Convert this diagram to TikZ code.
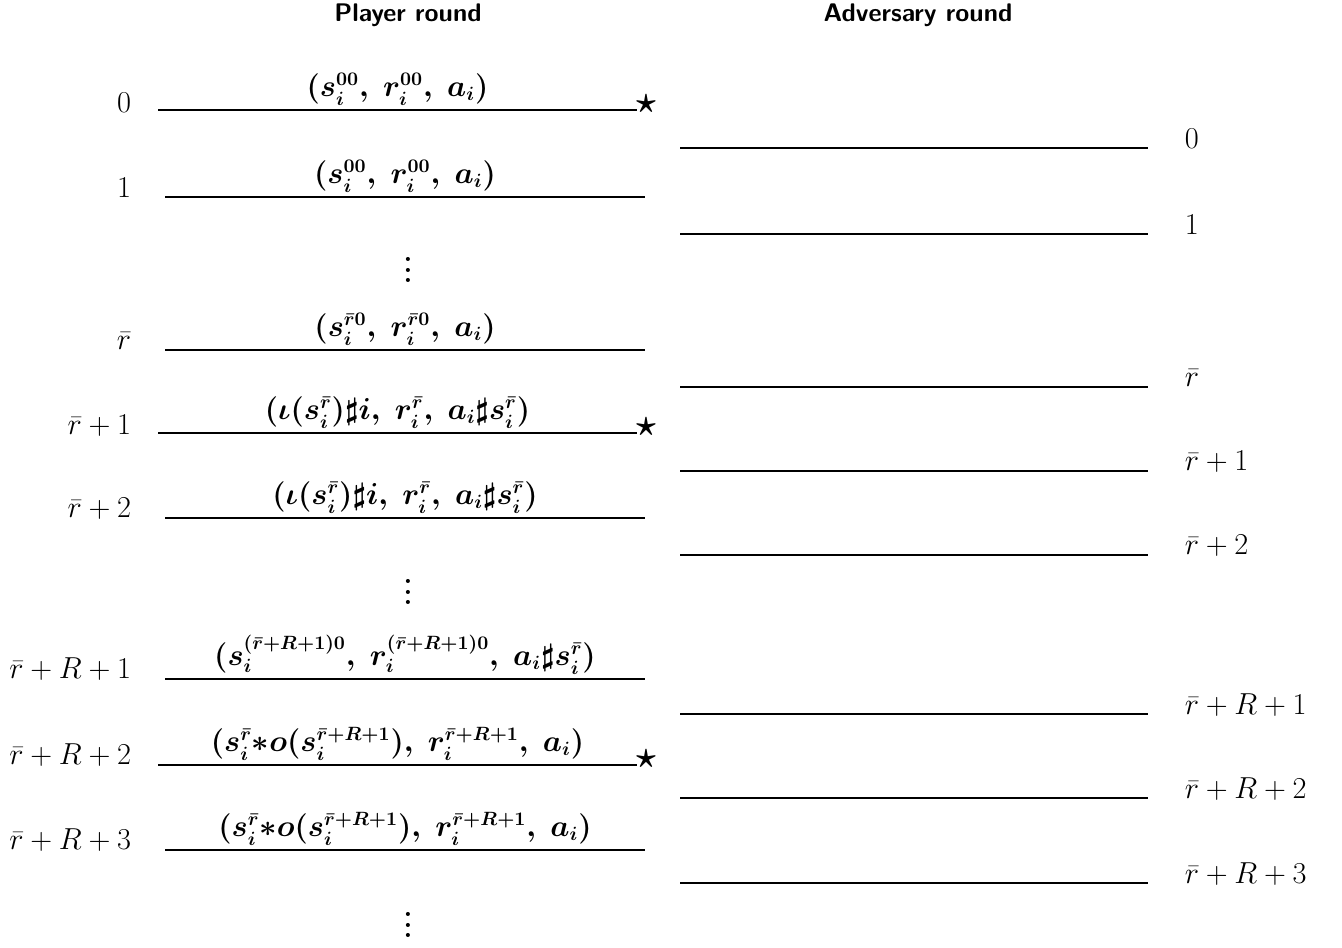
\documentclass[tikz,border=0pt]{standalone}
\usepackage{amsmath,amssymb}
\usepackage{tikz}
\usetikzlibrary{positioning}

\newcommand{\tallvdots}{\vbox{\baselineskip=5.8pt\lineskiplimit=0pt\hbox{\bfseries .}\hbox{\bfseries .}\hbox{\bfseries .}}}

\begin{document}
\begin{tikzpicture}[x=0.02cm, y=-0.02cm, font=\fontsize{16}{18}\selectfont, line width=1pt]
    \useasboundingbox (0,0) rectangle (1342,947);
    \tikzset{lbl/.style={midway, above, inner sep=2pt, font=\fontsize{16}{18}\selectfont\boldmath},
        rowl/.style={anchor=east, inner sep=0pt}, rowr/.style={anchor=west, inner sep=0pt},
        mark star/.style={font=\fontsize{20}{22}\selectfont\boldmath, inner sep=0pt},
        dots/.style={font=\fontsize{16}{18}\selectfont, inner sep=0pt}}

    % titles
    \node[font=\fontsize{14.5}{16}\selectfont\sffamily\bfseries] (ptitle) at (408,15) {Player round};
    \node[font=\fontsize{14.5}{16}\selectfont\sffamily\bfseries] (atitle) at (918,15) {Adversary round};

    % player round
    \node[rowl] (p0) at (132,103) {$0$};
    \draw (158,110) -- (637,110) node[lbl]{$(s_i^{00},\ r_i^{00},\ a_i)$};
    \node[mark star] (s0) at (646,104) {$\star$};
    \node[rowl] (p1) at (132,188) {$1$};
    \draw (165,197) -- (645,197) node[lbl]{$(s_i^{00},\ r_i^{00},\ a_i)$};
    \node[dots] (d1) at (408,270) {\tallvdots};
    \node[rowl] (p2) at (132,341) {$\bar r$};
    \draw (165,350) -- (645,350) node[lbl]{$(s_i^{\bar r0},\ r_i^{\bar r0},\ a_i)$};
    \node[rowl] (p3) at (132,426) {$\bar r+1$};
    \draw (158,433) -- (637,433) node[lbl]{$(\iota(s_i^{\bar r})\sharp i,\ r_i^{\bar r},\ a_i\sharp s_i^{\bar r})$};
    \node[mark star] (s1) at (646,427) {$\star$};
    \node[rowl] (p4) at (132,509) {$\bar r+2$};
    \draw (165,518) -- (645,518) node[lbl]{$(\iota(s_i^{\bar r})\sharp i,\ r_i^{\bar r},\ a_i\sharp s_i^{\bar r})$};
    \node[dots] (d2) at (408,592) {\tallvdots};
    \node[rowl] (p5) at (132,669) {$\bar r+R+1$};
    \draw (165,679) -- (645,679) node[lbl]{$(s_i^{(\bar r+R+1)0},\ r_i^{(\bar r+R+1)0},\ a_i\sharp s_i^{\bar r})$};
    \node[rowl] (p6) at (132,755) {$\bar r+R+2$};
    \draw (158,765) -- (637,765) node[lbl]{$(s_i^{\bar r}{*}o(s_i^{\bar r+R+1}),\ r_i^{\bar r+R+1},\ a_i)$};
    \node[mark star] (s2) at (646,759) {$\star$};
    \node[rowl] (p7) at (132,840) {$\bar r+R+3$};
    \draw (165,850) -- (645,850) node[lbl]{$(s_i^{\bar r}{*}o(s_i^{\bar r+R+1}),\ r_i^{\bar r+R+1},\ a_i)$};
    \node[dots] (d3) at (408,925) {\tallvdots};

    % adversary round
    \draw (680,148) -- (1148,148);
    \node[rowr] (a0) at (1184,139) {$0$};
    \draw (680,234) -- (1148,234);
    \node[rowr] (a1) at (1184,225) {$1$};
    \draw (680,387) -- (1148,387);
    \node[rowr] (a2) at (1184,378) {$\bar r$};
    \draw (680,471) -- (1148,471);
    \node[rowr] (a3) at (1184,462) {$\bar r+1$};
    \draw (680,555) -- (1148,555);
    \node[rowr] (a4) at (1184,546) {$\bar r+2$};
    \draw (680,714) -- (1148,714);
    \node[rowr] (a5) at (1184,705) {$\bar r+R+1$};
    \draw (680,798) -- (1148,798);
    \node[rowr] (a6) at (1184,789) {$\bar r+R+2$};
    \draw (680,883) -- (1148,883);
    \node[rowr] (a7) at (1184,874) {$\bar r+R+3$};
\end{tikzpicture}
\end{document}
